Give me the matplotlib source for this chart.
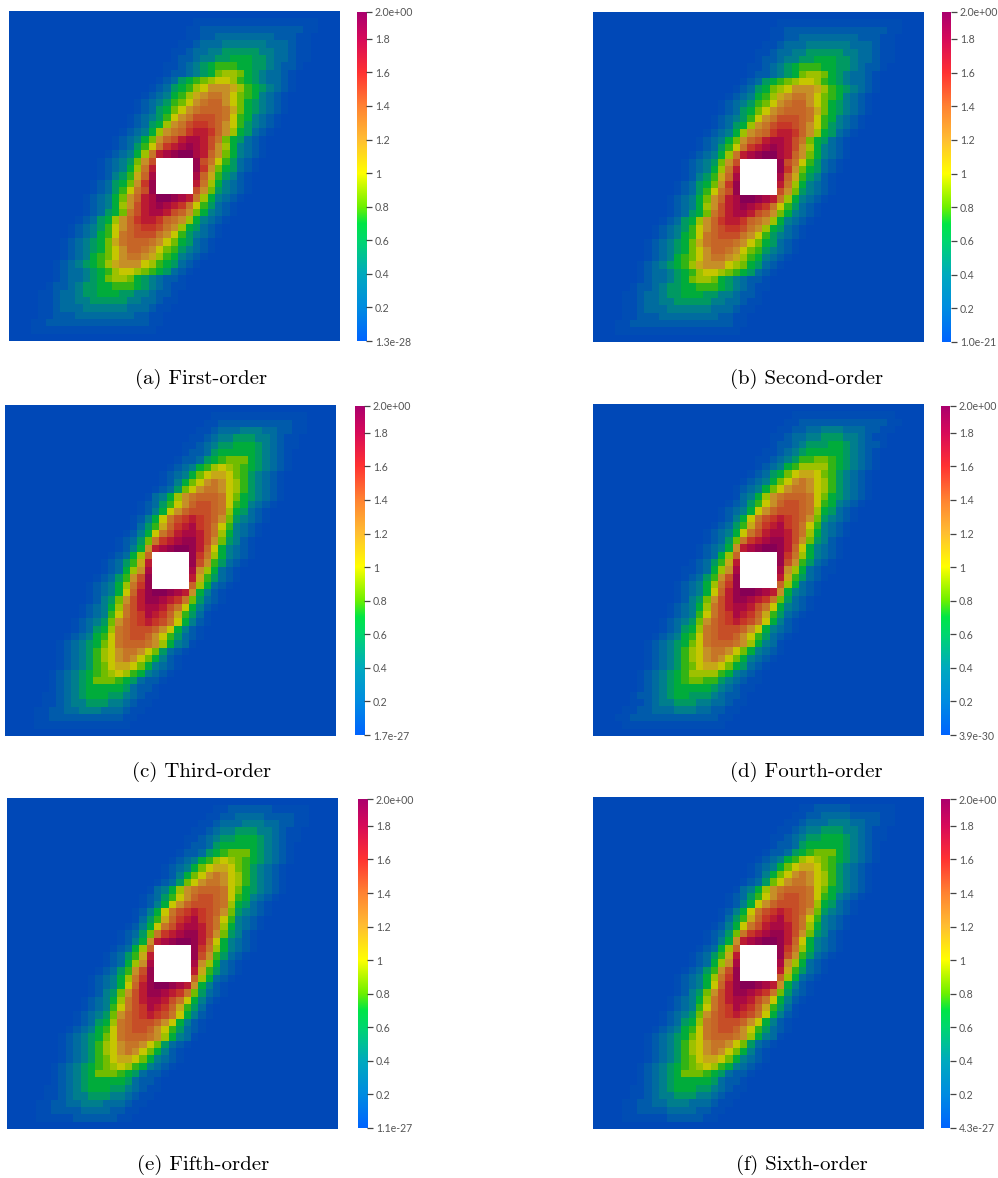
#!/usr/bin/python3

import numpy as np
import matplotlib as mpl
mpl.use("Agg")
import matplotlib.pyplot as plt
from matplotlib.colors import LinearSegmentedColormap

W = 998
H = 1178
N = 45
VMAX = 1.96

# rows 0..22 of each field as (first column, colour class)
# one char per cell, x = hole, level_values below gives the value of each class
# the field is point symmetric about the hole so rows 23..44 are rows 21..0 turned round
first_rows = [
    (0, ""), (25, "11111111111111111"), (24, "112222222222222211"), (24, "11223333333322211"),
    (23, "112333444444333211"), (22, "1123344555554433211"), (22, "1223445566655433211"),
    (21, "1123456777665543221"), (21, "122345689986543321"), (20, "12356789aa976543321"),
    (19, "1235679acccb97654321"), (18, "1234679bcddca8764321"), (17, "1234578acdeeca8654321"),
    (17, "123568acdeeedb8654321"), (16, "123457acdfffeda764321"), (16, "123569cdfggfeca754321"),
    (15, "123469cdeghhgec965321"), (14, "123468cefhiihfd865321"), (14, "12357adghijihfc964321"),
    (13, "123469dhijkkihec864321"), (12, "123458cfxxxxxjfda75321"), (12, "123469dhxxxxxjgc865321"),
    (12, "12457beixxxxxieb75421"),
]
second_rows = [
    (0, ""), (25, "11111111111111111"), (24, "112222222222222211"), (24, "11223333333322211"),
    (23, "112333444444333211"), (22, "1123344555554433211"), (22, "1223445566655433211"),
    (21, "1123456777665543221"), (21, "122345689986543321"), (20, "12356789aa976543321"),
    (19, "1235689acccb97654321"), (18, "1234679bcddca8764321"), (17, "1234578acdeeca8654321"),
    (17, "123568acdeeedb8654321"), (16, "123457acdfffeda764321"), (16, "123569cdfggfeca754321"),
    (15, "123469cdeghhgec965321"), (14, "123468cefhiihfd865321"), (14, "12357adghijihfc964321"),
    (13, "123469dhijkkihec864321"), (12, "123458cfxxxxxjfda75321"), (12, "123469dhxxxxxjgc865321"),
    (12, "12457beixxxxxieb75421"),
]
third_rows = [
    (0, ""), (28, "1111111111111"), (27, "11222222222211"), (26, "112333444332211"),
    (25, "112344555443211"), (24, "1123455666543211"), (24, "122356666654321"),
    (23, "1223567888654321"), (22, "1234679a987654321"), (21, "123468abba8754321"),
    (21, "12468acdca9754321"), (20, "12358acddca9754321"), (19, "13469cdeeeda8654321"),
    (18, "12357aceffeda764321"), (18, "1246acefffed965321"), (17, "1246adfghgfec854321"),
    (17, "1357beghigfda74321"), (16, "1246adfhiihfd964321"), (15, "12358dghijjhfc85421"),
    (15, "1246chijkkjhea64321"), (14, "12369exxxxxjgd964321"), (13, "12357bhxxxxxjfc75321"),
    (13, "12369cixxxxxic96321"),
]
fourth_rows = [
    (0, ""), (27, "11111111111111"), (26, "1122222222222211"), (25, "1122334443332211"),
    (24, "1123344555443211"), (24, "1223455566543221"), (23, "1123456666654321"),
    (22, "11234577887654321"), (22, "12346799997654321"), (21, "123568abba8754321"),
    (20, "123468acdca9754321"), (19, "123468acddca9754321"), (19, "13469cdeeeda8654321"),
    (18, "12357aceffeda764321"), (17, "12346acefffed965321"), (17, "1246adfghgfec854321"),
    (16, "12357beghigfda74321"), (15, "12346adfhiihfd964321"), (15, "12358dghijjhfc85421"),
    (14, "12346chijkkjhea64321"), (14, "12369exxxxxjgd964321"), (13, "12357bhxxxxxjfc75321"),
    (12, "112369cixxxxxic963211"),
]
fifth_rows = [
    (0, ""), (28, "1122222211111"), (27, "11223333222211"), (26, "112333444332211"),
    (25, "112344555443211"), (24, "1123455666543211"), (24, "122356666654321"),
    (23, "1223567888654321"), (22, "1234679a987654321"), (21, "123468abba8754321"),
    (21, "12468acdca9754321"), (20, "12358acddca9754321"), (19, "13469cdeeeda8654321"),
    (18, "12357aceffeda764321"), (18, "1246acefffed965321"), (17, "1246adfghgfec854321"),
    (17, "1357beghigfda74321"), (16, "1246adfhiihfd964321"), (15, "12358dghijjhfc85421"),
    (15, "1246chijkkjhea64321"), (14, "12369exxxxxjgd964321"), (13, "12357bhxxxxxjfc75321"),
    (13, "12369cixxxxxic96321"),
]
sixth_rows = [
    (0, ""), (28, "1122222111111"), (27, "11223333222211"), (26, "112333444332211"),
    (25, "112344555443211"), (24, "1123455666543211"), (24, "122356666654321"),
    (23, "1223567888654321"), (22, "1234679a987654321"), (21, "123468abba8754321"),
    (21, "12468acdca9754321"), (20, "12358acddca9754321"), (19, "13469cdeeeda8654321"),
    (18, "12357aceffeda764321"), (18, "1246acefffed965321"), (17, "1246adfghgfec854321"),
    (17, "1357beghigfda74321"), (16, "1246adfhiihfd964321"), (15, "12358dghijjhfc85421"),
    (15, "1246chijkkjhea64321"), (14, "12369exxxxxjgd964321"), (13, "12357bhxxxxxjfc75321"),
    (13, "12369cixxxxxic96321"),
]

level_chars = "0123456789abcdefghijk"
level_values = [0.0, 0.04, 0.13, 0.25, 0.40, 0.55, 0.68, 0.76, 0.85, 0.93, 1.0,
                1.12, 1.22, 1.33, 1.40, 1.47, 1.55, 1.67, 1.78, 1.87, 1.95]

captions = ["(a) First-order", "(b) Second-order", "(c) Third-order",
            "(d) Fourth-order", "(e) Fifth-order", "(f) Sixth-order"]
min_labels = ["1.3e-28", "1.0e-21", "1.7e-27", "3.9e-30", "1.1e-27", "4.3e-27"]
tick_values = [0.2, 0.4, 0.6, 0.8, 1.0, 1.2, 1.4, 1.6, 1.8]
tick_labels = ["0.2", "0.4", "0.6", "0.8", "1", "1.2", "1.4", "1.6", "1.8"]

# colour bar stops
stop_values = [0.0, 0.2, 0.4, 0.6, 0.7, 0.8, 1.0, 1.2, 1.4, 1.6, 1.8, VMAX]
stop_colors = ["#0064ff", "#008ce1", "#00aabe", "#00d76e", "#00e646", "#6ef000",
               "#ffff00", "#ffbe32", "#ff8232", "#ff3232", "#d70a5a", "#aa006e"]

# pixel boxes: left, top, right, bottom
field_boxes = [(9, 11, 340, 341), (593, 12, 924, 342), (5, 405, 336, 736),
               (593, 404, 924, 736), (7, 798, 338, 1129), (593, 797, 924, 1129)]
bar_boxes = [(357, 12, 366, 341), (942, 12, 951, 342), (355, 406, 364, 735),
             (941, 406, 950, 735), (358, 799, 367, 1128), (941, 799, 950, 1128)]
caption_pos = [(201, 379), (807, 379), (202, 772), (806, 772), (203, 1165), (802, 1165)]
CAPTION_SIZE = 15


def build_field(rows):
    f = np.zeros((N, N))
    for r, (start, cells) in enumerate(rows):
        for i, c in enumerate(cells):
            f[r, start + i] = np.nan if c == "x" else level_values[level_chars.index(c)]
    # bottom half
    for r in range(23, N):
        f[r] = f[N - 1 - r][::-1]
    f[20:25, 20:25] = np.nan
    return f


def add_box(fig, box):
    l, t, r, b = box
    return fig.add_axes([l / W, 1 - b / H, (r - l) / W, (b - t) / H])


def main():
    plt.rcParams["font.family"] = "Lato"
    stops = [(v / VMAX, c) for v, c in zip(stop_values, stop_colors)]
    bar_cmap = LinearSegmentedColormap.from_list("bar", stops, N=512)

    # the surface is lit so it is darker than its colour bar
    rgb = bar_cmap(np.linspace(0, 1, 512))
    shade = 0.72 + 0.06 * np.minimum(np.linspace(0, VMAX, 512), 1)
    rgb[:, :3] = rgb[:, :3] * shade[:, None]
    field_cmap = LinearSegmentedColormap.from_list("field", rgb, N=512)
    field_cmap.set_bad("white")

    fig = plt.figure(figsize=(W / 100, H / 100), dpi=100)
    all_rows = [first_rows, second_rows, third_rows, fourth_rows, fifth_rows, sixth_rows]
    for i, rows in enumerate(all_rows):
        ax = add_box(fig, field_boxes[i])
        ax.imshow(build_field(rows), cmap=field_cmap, vmin=0, vmax=VMAX,
                  interpolation="nearest", aspect="auto")
        ax.axis("off")

        cax = add_box(fig, bar_boxes[i])
        grad = np.linspace(VMAX, 0, 512)[:, None]
        cax.imshow(grad, cmap=bar_cmap, vmin=0, vmax=VMAX, aspect="auto",
                   extent=[0, 1, 0, VMAX])
        for s in cax.spines.values():
            s.set_visible(False)
        cax.set_xticks([])
        cax.yaxis.tick_right()
        cax.set_yticks([0] + tick_values + [VMAX])
        cax.set_yticklabels([min_labels[i]] + tick_labels + ["2.0e+00"])
        cax.tick_params(axis="y", length=4, width=0.9, pad=2.5, labelsize=7.6,
                        color="#444444", labelcolor="#555555")
        for t in cax.get_yticklines():
            t.set_clip_on(False)

        fig.text(caption_pos[i][0] / W, 1 - caption_pos[i][1] / H, captions[i],
                 family="cmr10", fontsize=CAPTION_SIZE, ha="center", va="center", color="black")

    fig.savefig("out.png", dpi=100)


if __name__ == "__main__":
    main()
